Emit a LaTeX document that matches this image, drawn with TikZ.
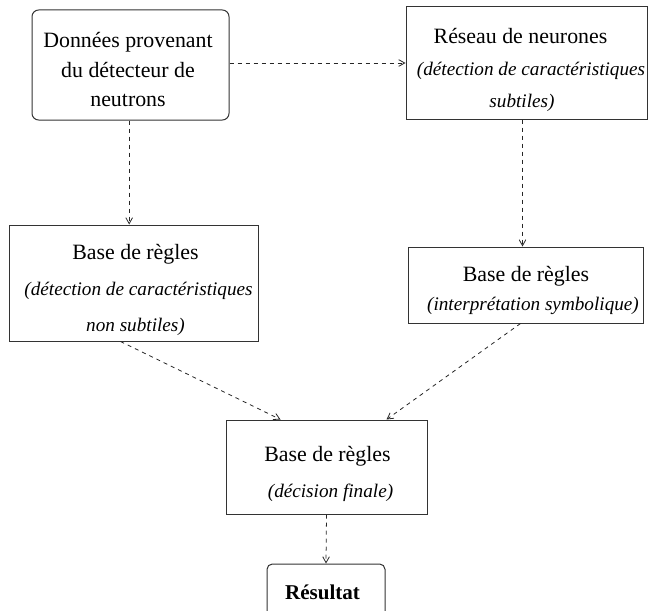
\documentclass[tikz,border=0pt]{standalone}
\usepackage{fontspec}
\setmainfont{Liberation Serif}
\usetikzlibrary{arrows.meta,fit,calc}

\tikzset{
  box/.style={draw=black!80, line width=0.75pt, inner sep=0pt},
  roundbox/.style={box, rounded corners=5pt},
  up/.style={anchor=base, inner sep=0pt, font=\fontsize{16.4}{20}\selectfont},
  it/.style={anchor=base, inner sep=0pt, font=\fontsize{14.4}{17}\selectfont\itshape},
  bf/.style={anchor=base, inner sep=0pt, font=\fontsize{15.8}{19}\selectfont\bfseries},
  flow/.style={draw=black!85, line width=0.6pt, dash pattern=on 3pt off 3pt,
    -{Straight Barb[length=4.5pt,width=5pt]}},
}

\begin{document}
\begin{tikzpicture}[x=0.75pt, y=-0.75pt]
\useasboundingbox (0,0) rectangle (648,610);
\clip (0,0) rectangle (648,610);

% boxes
\node[roundbox, fit={(32,10) (229,120)}] (b1) {};
\node[box, fit={(406,7) (647,119)}] (b2) {};
\node[box, fit={(9,225) (258,341)}] (b3) {};
\node[box, fit={(408,247) (643,323)}] (b4) {};
\node[box, fit={(226,420) (427,514)}] (b5) {};
\node[roundbox, rounded corners=4pt, fit={(267,564) (385,618)}] (res) {};

% texts
\node[up] (t1a) at (128,47) {Données provenant};
\node[up] (t1b) at (128,77) {du détecteur de};
\node[up] (t1c) at (128,106) {neutrons};

\node[up] (t2a) at (520.5,44) {Réseau de neurones};
\node[it] (t2b) at (531,75) {(détection de caractéristiques};
\node[it] (t2c) at (522,107) {subtiles)};

\node[up] (t3a) at (135.5,259) {Base de règles};
\node[it] (t3b) at (138.5,295) {(détection de caractéristiques};
\node[it] (t3c) at (135.5,331) {non subtiles)};

\node[up] (t4a) at (526,281) {Base de règles};
\node[it] (t4b) at (533,310) {(interprétation symbolique)};

\node[up] (t5a) at (327.5,461) {Base de règles};
\node[it] (t5b) at (330.5,497) {(décision finale)};

\node[bf] (tr) at (322.5,599) {Résultat};

% connectors
\draw[flow] (b1.east |- b2.west) -- (b2.west);
\draw[flow] ([xshift=-1pt]b1.south) -- ([xshift=-1pt]b1.south |- b3.north);
\draw[flow] ([xshift=-3pt]b2.south) -- ([xshift=-3pt]b2.south |- b4.north);
\draw[flow] ($(b3.south)+(-13,0)$) -- ($(b5.north)+(-46,0)$);
\draw[flow] ($(b4.south)+(-5,0)$) -- ($(b5.north)+(60,0)$);
\draw[flow] (b5.south) -- (res.north);
\end{tikzpicture}
\end{document}
